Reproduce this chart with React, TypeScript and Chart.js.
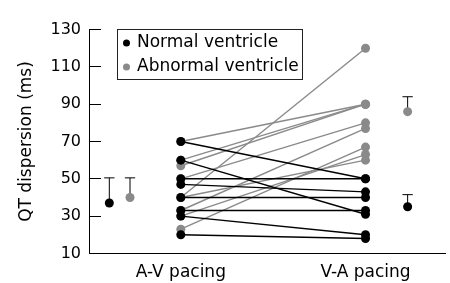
import { useEffect, useRef } from 'react';
import { Chart, registerables } from 'chart.js';
Chart.register(...registerables);

// ---- data ----
const categories = ['A-V pacing', 'V-A pacing'];
const yTicks = [10, 30, 50, 70, 90, 110, 130];
const seriesNames = ['Normal ventricle', 'Abnormal ventricle'];
// individual patients (A-V value, V-A value)
const normalAV = [70, 60, 50, 47, 40, 33, 30, 20];
const normalVA = [50, 31, 50, 43, 40, 33, 20, 18];
const abnormalAV = [70, 60, 57, 50, 40, 40, 33, 30, 23];
const abnormalVA = [90, 90, 90, 80, 120, 60, 77, 63, 67];
// group means and SD (A-V, V-A)
const meanNormal = [37, 35];
const sdNormal = [13.5, 6.5];
const meanAbnormal = [40, 86];
const sdAbnormal = [10.5, 8];

// ---- layout / style constants ----
const catX = [1, 2];
const meanXNormal = [0.613, 2.228];
const meanXAbnormal = [0.725, 2.228];
const capHalf = 0.028;
const BLACK = '#000000';
const GRAY = '#8a8a8a';
const FONT = '"DejaVu Sans", sans-serif';

function pairDatasets(av: number[], va: number[], color: string, order: number) {
  return av.map((a, i) => ({
    type: 'line' as const,
    data: [
      { x: catX[0], y: a },
      { x: catX[1], y: va[i] },
    ],
    borderColor: color,
    backgroundColor: color,
    pointBackgroundColor: color,
    pointBorderColor: color,
    pointBorderWidth: 0,
    pointRadius: 4.5,
    borderWidth: 1.4,
    order,
  }));
}

function meanDatasets(xs: number[], means: number[], sds: number[], color: string, order: number) {
  const out: any[] = [];
  xs.forEach((x, i) => {
    const top = means[i] + sds[i];
    out.push({
      type: 'line',
      data: [
        { x, y: means[i] },
        { x, y: top },
      ],
      borderColor: BLACK,
      borderWidth: 1,
      pointRadius: 0,
      order: order + 1,
    });
    out.push({
      type: 'line',
      data: [
        { x: x - capHalf, y: top },
        { x: x + capHalf, y: top },
      ],
      borderColor: BLACK,
      borderWidth: 1,
      pointRadius: 0,
      order: order + 1,
    });
    out.push({
      type: 'line',
      data: [{ x, y: means[i] }],
      showLine: false,
      pointRadius: 4.5,
      pointBorderWidth: 0,
      pointBackgroundColor: color,
      backgroundColor: color,
      borderColor: color,
      order,
    });
  });
  return out;
}

const legendPlugin = {
  id: 'boxLegend',
  afterDraw(chart: any) {
    const { ctx, chartArea } = chart;
    const x0 = Math.round(chartArea.left + 28);
    const y0 = Math.round(chartArea.top - 1);
    const w = 185;
    const h = 50;
    const colors = [BLACK, GRAY];
    ctx.save();
    ctx.strokeStyle = '#222';
    ctx.lineWidth = 1;
    ctx.strokeRect(x0 + 0.5, y0 + 0.5, w, h);
    ctx.font = '17px ' + FONT;
    ctx.textBaseline = 'middle';
    ctx.textAlign = 'left';
    seriesNames.forEach((name, i) => {
      const cy = y0 + 14 + i * 24;
      ctx.fillStyle = colors[i];
      ctx.beginPath();
      ctx.arc(x0 + 9.5, cy, 3.5, 0, Math.PI * 2);
      ctx.fill();
      ctx.fillStyle = '#000';
      ctx.fillText(name, x0 + 20, cy);
    });
    ctx.restore();
  },
};

export default function App() {
  const ref = useRef<HTMLCanvasElement>(null);
  useEffect(() => {
    if (!ref.current) return;
    const chart = new Chart(ref.current, {
      type: 'line',
      data: {
        datasets: [
          ...pairDatasets(abnormalAV, abnormalVA, GRAY, 4),
          ...pairDatasets(normalAV, normalVA, BLACK, 2),
          ...meanDatasets(meanXAbnormal, meanAbnormal, sdAbnormal, GRAY, 0),
          ...meanDatasets(meanXNormal, meanNormal, sdNormal, BLACK, 0),
        ] as any,
      },
      options: {
        animation: false,
        responsive: false,
        events: [],
        layout: { padding: { top: 23, right: 0, left: 0, bottom: 0 } },
        plugins: { legend: { display: false }, tooltip: { enabled: false } },
        scales: {
          x: {
            type: 'linear',
            min: 0.503,
            max: 2.433,
            afterBuildTicks: (s: any) => {
              s.ticks = catX.map((v) => ({ value: v }));
            },
            afterFit: (s: any) => {
              s.height = 28;
            },
            ticks: {
              color: '#000',
              font: { family: FONT, size: 17 },
              padding: 9,
              maxRotation: 0,
              autoSkip: false,
              callback: (v: any) => categories[catX.indexOf(Number(v))] ?? '',
            },
            grid: { display: false, drawTicks: false },
            border: { display: true, color: '#000', width: 1 },
          },
          y: {
            type: 'linear',
            min: 10,
            max: 130,
            afterBuildTicks: (s: any) => {
              s.ticks = yTicks.map((v) => ({ value: v }));
            },
            afterFit: (s: any) => {
              s.width = 89;
            },
            ticks: {
              color: '#000',
              font: { family: FONT, size: 16 },
              padding: 20,
            },
            grid: {
              display: true,
              drawOnChartArea: false,
              drawTicks: true,
              tickLength: -12,
              color: '#000',
              tickColor: '#000',
              lineWidth: 1,
            },
            border: { display: true, color: '#000', width: 1 },
            title: {
              display: true,
              text: 'QT dispersion (ms)',
              color: '#000',
              font: { family: FONT, size: 17 },
              padding: { top: 16, bottom: 0 },
            },
          },
        },
      },
      plugins: [legendPlugin],
    });
    return () => chart.destroy();
  }, []);
  return (
    <div style={{ position: 'absolute', left: 0, top: 0, width: 450, height: 283 }}>
      <canvas ref={ref} width={450} height={283} />
    </div>
  );
}
